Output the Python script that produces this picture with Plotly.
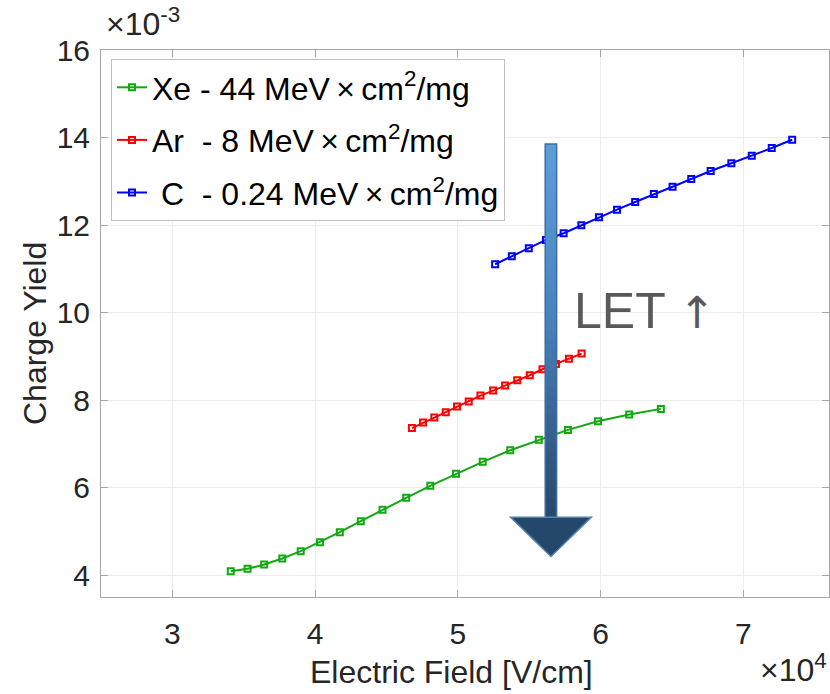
import plotly.graph_objects as go

# Electric field [V/cm] and charge yield for each ion
xe_field = [34090, 35270, 36430, 37700, 38990, 40340, 41730, 43200, 44720, 46380,
            48070, 49870, 51740, 53670, 55670, 57710, 59820, 62000, 64220]
xe_yield = [0.004091, 0.004144, 0.004242, 0.004379, 0.004548, 0.004753, 0.004982,
            0.005233, 0.005492, 0.005766, 0.006040, 0.006314, 0.006588, 0.006855,
            0.007091, 0.007319, 0.007517, 0.007669, 0.007799]

ar_field = [46780, 47560, 48350, 49150, 49940, 50760, 51580, 52470, 53310, 54160,
            55040, 55930, 56870, 57780, 58670]
ar_yield = [0.007360, 0.007487, 0.007600, 0.007723, 0.007851, 0.007966, 0.008103,
            0.008217, 0.008331, 0.008454, 0.008568, 0.008705, 0.008826, 0.008947,
            0.009062]

c_field = [52610, 53780, 54970, 56170, 57410, 58650, 59890, 61150, 62420, 63730,
           65040, 66350, 67710, 69160, 70590, 71990, 73420]
c_yield = [0.011104, 0.011287, 0.011469, 0.011659, 0.011812, 0.011994, 0.012177,
           0.012352, 0.012527, 0.012710, 0.012876, 0.013052, 0.013235, 0.013411,
           0.013585, 0.013760, 0.013950]

TIMES = "\u2009×\u2009"
series_names = ["Xe - 44 MeV" + TIMES + "cm<sup>2</sup>/mg",
                "Ar\u00a0 - 8 MeV" + TIMES + "cm<sup>2</sup>/mg",
                "\u00a0C\u00a0 - 0.24 MeV" + TIMES + "cm<sup>2</sup>/mg"]
series_colors = ["#12a812", "#ff0000", "#0000ff"]

x_ticks = [30000, 40000, 50000, 60000, 70000]
x_tick_text = ["3", "4", "5", "6", "7"]
y_ticks = [0.004, 0.006, 0.008, 0.010, 0.012, 0.014, 0.016]
y_tick_text = ["4", "6", "8", "10", "12", "14", "16"]

FONT = "Liberation Sans, Arial, Helvetica, sans-serif"
TXT = "#262626"

fig = go.Figure()
for k, (xs, ys, name, col) in enumerate(zip([xe_field, ar_field, c_field],
                                            [xe_yield, ar_yield, c_yield],
                                            series_names, series_colors)):
    fig.add_trace(go.Scatter(
        x=xs, y=ys, name=name, mode="lines+markers", legendgroup=f"g{k}",
        line=dict(color=col, width=2),
        marker=dict(symbol="square-open", size=6, color=col, line=dict(width=2, color=col)),
    ))

# "LET" arrow: shaft with a vertical blue gradient, then a dark triangular head
arrow_x = 56520
shaft_half = 400
shaft_top = 0.01385
shaft_bottom = 0.005325
head_half = 2830
head_tip = 0.004425

def mix(c1, c2, t):
    return "rgb(%d,%d,%d)" % tuple(round(a + (b - a) * t) for a, b in zip(c1, c2))

stops = [(0.0, (92, 158, 218)), (0.45, (74, 132, 192)), (0.7, (58, 104, 156)), (1.0, (40, 72, 108))]
n = 40
step = (shaft_top - shaft_bottom) / n
for i in range(n):
    t = (i + 0.5) / n
    for (t0, c0), (t1, c1) in zip(stops[:-1], stops[1:]):
        if t0 <= t <= t1:
            col = mix(c0, c1, (t - t0) / (t1 - t0))
            break
    y_hi = shaft_top - step * i
    y_lo = max(shaft_bottom, y_hi - step * 1.6)
    fig.add_shape(type="rect", xref="x", yref="y",
                  x0=arrow_x - shaft_half, x1=arrow_x + shaft_half, y0=y_lo, y1=y_hi,
                  fillcolor=col, line=dict(width=0), layer="above")
fig.add_shape(type="rect", xref="x", yref="y",
              x0=arrow_x - shaft_half, x1=arrow_x + shaft_half, y0=shaft_bottom, y1=shaft_top,
              fillcolor="rgba(0,0,0,0)", line=dict(width=1.5, color="#3f6d9c"), layer="above")
fig.add_shape(type="path", xref="x", yref="y",
              path=f"M {arrow_x - head_half} {shaft_bottom} L {arrow_x + head_half} {shaft_bottom} "
                   f"L {arrow_x} {head_tip} Z",
              fillcolor="#24476c", line=dict(width=1.5, color="#5580aa"), layer="above")

L, R, T, B = 101, 1, 50, 97
W, H = 830, 694
pw, ph = W - L - R, H - T - B

def px(x):
    return (x - L) / pw

def py(y):
    return (H - B - y) / ph

annotations = [
    dict(text="LET <span style='font-family:DejaVu Sans;font-size:44px'>↑</span>", x=58020, y=0.01004,
         xref="x", yref="y", xanchor="left", yanchor="middle",
         showarrow=False, font=dict(family=FONT, size=50, color="#595959")),
    dict(text="×10<sup>-3</sup>", x=px(104), y=py(44), xref="paper", yref="paper",
         xanchor="left", yanchor="bottom", showarrow=False,
         font=dict(family=FONT, size=32, color=TXT)),
    dict(text="×10<sup>4</sup>", x=px(829), y=py(690), xref="paper", yref="paper",
         xanchor="right", yanchor="bottom", showarrow=False,
         font=dict(family=FONT, size=32, color=TXT)),
    dict(text="Electric Field [V/cm]", x=px(451), y=py(672), xref="paper", yref="paper",
         xanchor="center", yanchor="middle",
         showarrow=False, font=dict(family=FONT, size=32, color=TXT)),
    dict(text="Charge Yield", x=px(35), y=py(334), xref="paper", yref="paper",
         xanchor="center", yanchor="middle", textangle=-90, showarrow=False,
         font=dict(family=FONT, size=32, color=TXT)),
]

axis_common = dict(
    showline=True, linecolor="#a6a6a6", linewidth=1, mirror="ticks",
    ticks="inside", ticklen=7, tickcolor="#a6a6a6", tickwidth=1,
    showgrid=True, gridcolor="#ececec", gridwidth=1, zeroline=False,
    tickfont=dict(family=FONT, size=30, color=TXT),
)

fig.update_layout(
    width=W, height=H,
    margin=dict(l=L, r=R, t=T, b=B),
    paper_bgcolor="white", plot_bgcolor="white",
    showlegend=True,
    legend=dict(x=px(111), y=py(59), xanchor="left", yanchor="top",
                bgcolor="white", bordercolor="#bfbfbf", borderwidth=1,
                font=dict(family=FONT, size=32, color="black"),
                itemwidth=30, tracegroupgap=8),
    xaxis=dict(range=[25000, 76000], tickvals=x_ticks, ticktext=x_tick_text,
               ticklabelstandoff=10, **axis_common),
    yaxis=dict(range=[0.0035, 0.016], tickvals=y_ticks, ticktext=y_tick_text,
               ticklabelstandoff=4, **axis_common),
    annotations=annotations,
)

fig.write_html("out.html")
